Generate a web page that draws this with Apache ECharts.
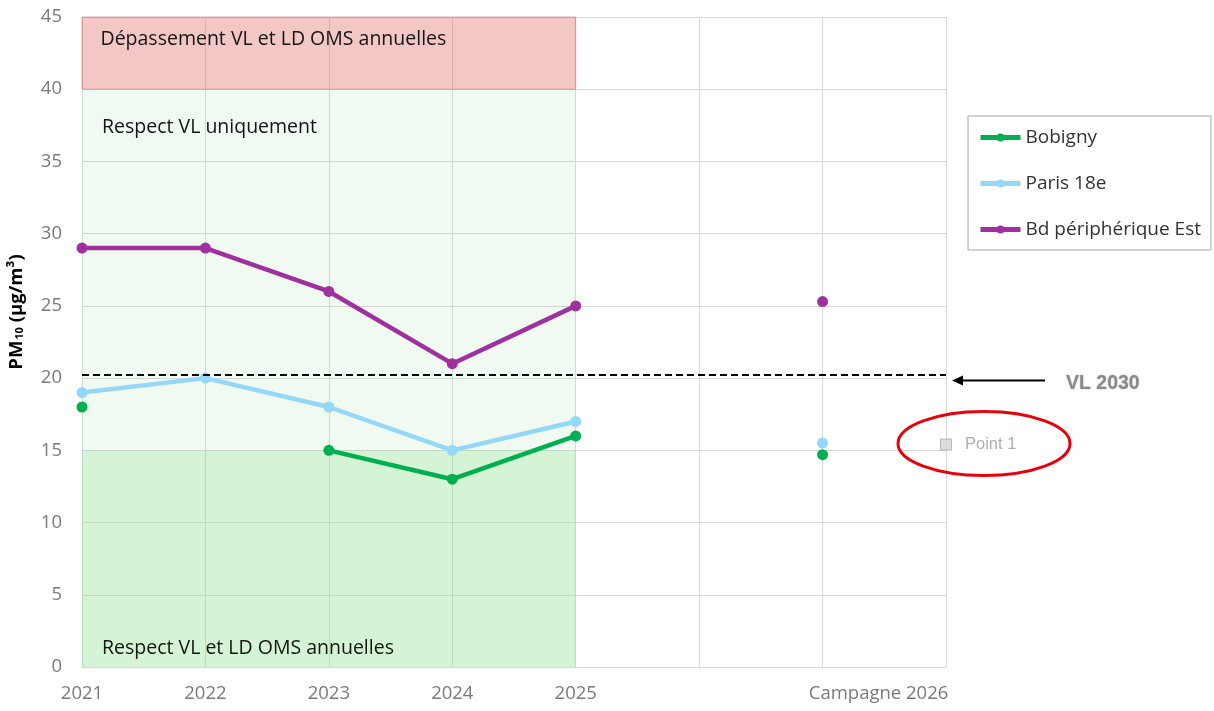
<!DOCTYPE html>
<html>
<head>
<meta charset="utf-8">
<script src="https://cdn.jsdelivr.net/npm/echarts@6/dist/echarts.min.js"></script>
<style>
  html, body { margin: 0; padding: 0; background: #ffffff; }
  #chart { width: 1214px; height: 711px; }
</style>
</head>
<body>
<div id="chart"></div>
<script>
// Annual PM10 averages per station, plus the 2026 measurement campaign
const categories = ['2021', '2022', '2023', '2024', '2025', '', 'Campagne 2026', ''];
const bobigny = [18, null, 15, 13, 16, null, 14.7, null];
const paris18 = [19, 20, 18, 15, 17, null, 15.5, null];
const peripheriqueEst = [29, 29, 26, 21, 25, null, 25.3, null];
const point1 = [null, null, null, null, null, null, null, 15.4];
const seriesNames = ['Bobigny', 'Paris 18e', 'Bd périphérique Est'];
const vl2030 = 20.25;

// Regulatory zones (y ranges) over the 2021–2025 period
const zoneNames = ['Respect VL et LD OMS annuelles', 'Respect VL uniquement', 'Dépassement VL et LD OMS annuelles'];
const zoneBounds = [[0, 15], [15, 40], [40, 45]];

const yMin = 0, yMax = 45, yStep = 5;

const mainFont = 'Open Sans';
const tickColor = '#7a7a7a';
const zoneStyles = [
  { color: 'rgba(135,221,135,0.35)' },
  { color: 'rgba(155,222,162,0.15)' },
  { color: 'rgba(228,115,115,0.40)', borderColor: 'rgba(200,110,110,0.55)', borderWidth: 1 }
];
const zoneLabels = [
  { position: 'insideBottomLeft', offset: [15, -4] },
  { position: 'insideTopLeft', offset: [15, 23] },
  { position: 'insideTopLeft', offset: [14, 8] }
];

const markAreaData = zoneBounds.map((b, i) => [
  {
    name: zoneNames[i], xAxis: categories[0], yAxis: b[0],
    itemStyle: zoneStyles[i],
    label: Object.assign({ show: true, color: '#141414', fontSize: 19.5, fontFamily: mainFont }, zoneLabels[i])
  },
  { xAxis: categories[4], yAxis: b[1] }
]);

function lineSeries(name, data, color, extra) {
  return Object.assign({
    name: name,
    type: 'line',
    data: data,
    connectNulls: false,
    symbol: 'circle',
    symbolSize: 11,
    showAllSymbol: true,
    lineStyle: { width: 4.5, color: color },
    itemStyle: { color: color },
    emphasis: { disabled: true },
    z: 3
  }, extra || {});
}

const option = {
  animation: false,
  backgroundColor: '#ffffff',
  grid: { left: 82, right: 268, top: 17, bottom: 44, containLabel: false, outerBoundsMode: 'none' },
  legend: {
    data: seriesNames,
    orient: 'vertical',
    left: 968,
    top: 116,
    padding: [12, 10, 11, 10],
    itemGap: 27,
    itemWidth: 40,
    itemHeight: 10,
    borderColor: '#a6a6a6',
    borderWidth: 1,
    selectedMode: false,
    lineStyle: { width: 5 },
    textStyle: { fontSize: 19, color: '#333333', fontFamily: mainFont }
  },
  xAxis: {
    type: 'category',
    data: categories,
    boundaryGap: false,
    axisLine: { show: true, lineStyle: { color: '#d9d9d9', width: 1 } },
    axisTick: { show: false },
    splitLine: { show: true, lineStyle: { color: '#d9d9d9', width: 1 } },
    axisLabel: {
      interval: 0,
      margin: 17,
      color: tickColor,
      fontSize: 18.5,
      fontFamily: mainFont,
      formatter: (v, i) => (i === 6 ? '{c|' + v + '}' : v),
      rich: { c: { padding: [0, 0, 0, 112], color: tickColor, fontSize: 18.5, fontFamily: mainFont } }
    }
  },
  yAxis: {
    type: 'value',
    min: yMin,
    max: yMax,
    interval: yStep,
    name: '{b|PM}{s|10}{b| (µg/m³)}',
    nameLocation: 'middle',
    nameRotate: 90,
    nameGap: 56,
    nameTextStyle: {
      padding: [0, 0, 0, 60],
      rich: {
        b: { fontSize: 18.5, fontWeight: 'bold', color: '#000000', fontFamily: mainFont },
        s: { fontSize: 11, fontWeight: 'bold', color: '#000000', fontFamily: mainFont, padding: [7, 0, 0, 1] }
      }
    },
    axisLine: { show: false },
    axisTick: { show: false },
    splitLine: { show: true, lineStyle: { color: '#d9d9d9', width: 1 } },
    axisLabel: { margin: 20, color: tickColor, fontSize: 18.5, fontFamily: mainFont }
  },
  series: [
    lineSeries(seriesNames[0], bobigny, '#00b050', {
      markArea: { silent: true, z: 1, data: markAreaData }
    }),
    lineSeries(seriesNames[1], paris18, '#93d8f8'),
    lineSeries(seriesNames[2], peripheriqueEst, '#a0309f', {
      markLine: {
        silent: true,
        symbol: ['none', 'none'],
        label: { show: false },
        lineStyle: { color: '#000000', type: [7, 4], width: 2 },
        data: [{ yAxis: vl2030 }]
      }
    }),
    {
      name: 'Point 1',
      type: 'scatter',
      data: point1,
      symbol: 'rect',
      symbolSize: 11,
      itemStyle: { color: '#d4d4d4', borderColor: '#a9a9a9', borderWidth: 1 },
      label: {
        show: true,
        position: 'right',
        distance: 13,
        formatter: 'Point 1',
        color: '#9a9a9a',
        fontSize: 16.5,
        fontFamily: 'Liberation Sans'
      },
      z: 4
    }
  ]
};

const chart = echarts.init(document.getElementById('chart'), null, { renderer: 'canvas' });
chart.setOption(option);

// Annotations anchored to data positions: VL 2030 arrow and the highlight around Point 1
const p1 = chart.convertToPixel({ gridIndex: 0 }, [7, point1[7]]);
const vl = chart.convertToPixel({ gridIndex: 0 }, [7, vl2030]);
const ay = vl[1] + 6;
chart.setOption({
  graphic: [
    {
      type: 'ellipse', silent: true, z: 10,
      shape: { cx: p1[0] + 38, cy: p1[1] - 1, rx: 86, ry: 32 },
      style: { fill: null, stroke: '#e8000b', lineWidth: 3 }
    },
    {
      type: 'line', silent: true, z: 10,
      shape: { x1: vl[0] + 14, y1: ay, x2: vl[0] + 99, y2: ay },
      style: { stroke: '#000000', lineWidth: 2 }
    },
    {
      type: 'polygon', silent: true, z: 10,
      shape: { points: [[vl[0] + 6, ay], [vl[0] + 17, ay - 5], [vl[0] + 17, ay + 5]] },
      style: { fill: '#000000' }
    },
    {
      type: 'text', silent: true, z: 10,
      x: vl[0] + 120, y: ay + 3,
      style: {
        text: 'VL 2030',
        font: 'bold 19.5px "Liberation Sans"',
        fill: '#8a8a8a',
        verticalAlign: 'middle',
        textShadowColor: 'rgba(0,0,0,0.25)',
        textShadowBlur: 2
      }
    }
  ]
});
</script>
</body>
</html>
